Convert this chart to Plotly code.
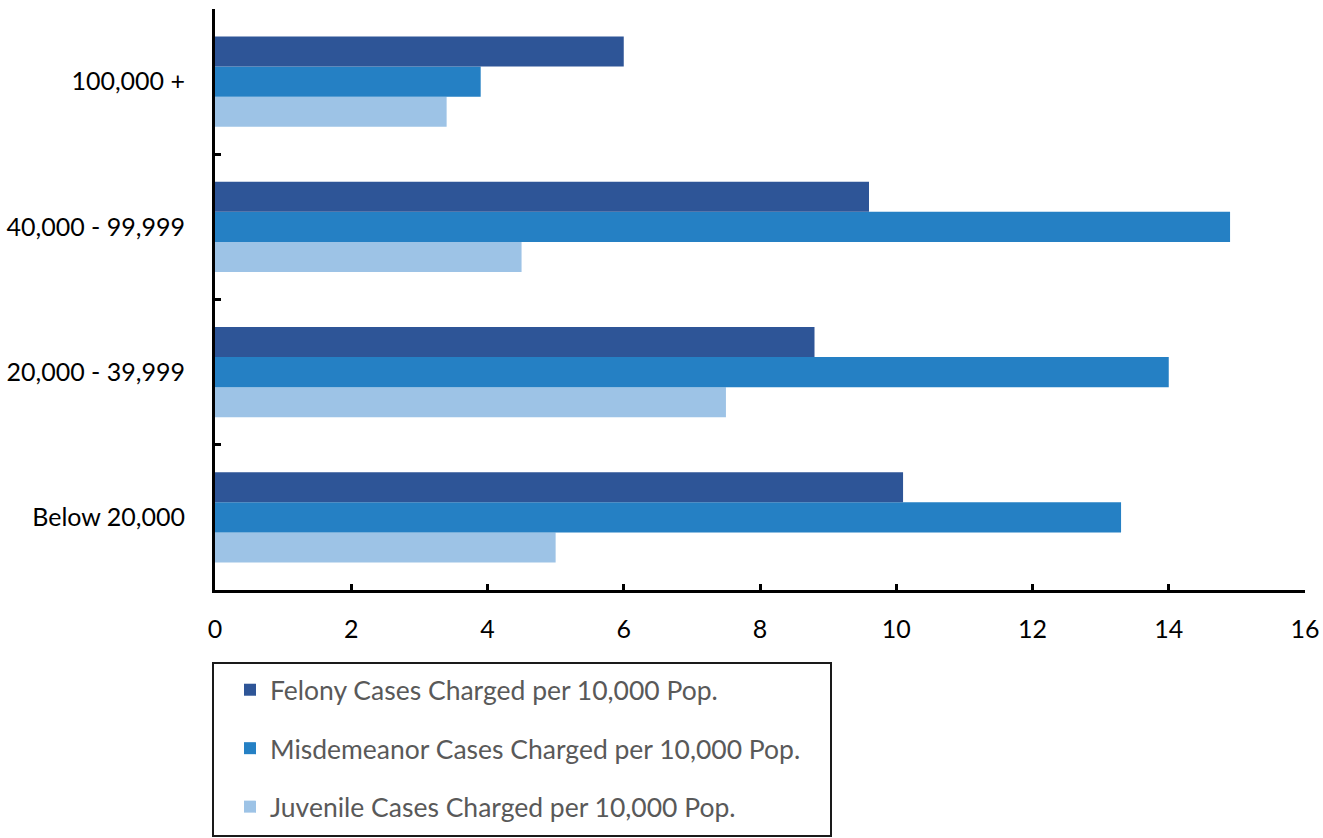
import plotly.graph_objects as go

# Population size groups (bottom to top on the chart)
categories = ["Below 20,000", "20,000 - 39,999", "40,000 - 99,999", "100,000 +"]

felony = [10.1, 8.8, 9.6, 6.0]
misdemeanor = [13.3, 14.0, 14.9, 3.9]
juvenile = [5.0, 7.5, 4.5, 3.4]

series_names = [
    "Felony Cases Charged per 10,000 Pop.",
    "Misdemeanor Cases Charged per 10,000 Pop.",
    "Juvenile Cases Charged per 10,000 Pop.",
]
series_colors = ["#2E5597", "#2580C4", "#9DC3E6"]

x_ticks = list(range(0, 17, 2))

W, H = 1323, 838
ML, MR, MT, MB = 215, 18, 9, 248
plot_w = W - ML - MR
plot_h = H - MT - MB


def px_to_paper_x(px):
    return (px - ML) / plot_w


def px_to_paper_y(py):
    return (H - MB - py) / plot_h


fig = go.Figure()

series = list(zip(series_names, [felony, misdemeanor, juvenile], series_colors))

# Added bottom-up so Felony sits at the top of each group;
# legendrank keeps the legend listed Felony first
for rank, (name, vals, color) in reversed(list(enumerate(series, start=1))):
    fig.add_trace(
        go.Bar(
            y=categories,
            x=vals,
            orientation="h",
            name=name,
            legendgroup=name,
            legendrank=rank,
            marker=dict(color=color, line=dict(width=0)),
        )
    )

font_family = "Lato, 'Noto Sans', sans-serif"

fig.update_layout(
    width=W,
    height=H,
    margin=dict(l=ML, r=MR, t=MT, b=MB, autoexpand=False),
    paper_bgcolor="white",
    plot_bgcolor="white",
    barmode="group",
    bargap=0.38,
    bargroupgap=0,
    font=dict(family=font_family, size=25, color="#000000"),
    showlegend=True,
    legend=dict(
        traceorder="grouped",
        x=px_to_paper_x(230),
        y=px_to_paper_y(666),
        xanchor="left",
        yanchor="top",
        bgcolor="rgba(0,0,0,0)",
        borderwidth=0,
        tracegroupgap=21,
        font=dict(family=font_family, size=26.5, color="#595959"),
    ),
    xaxis=dict(
        range=[0, 16],
        tickvals=x_ticks,
        ticks="inside",
        ticklen=6,
        tickwidth=3,
        tickcolor="#000000",
        showline=True,
        linewidth=3,
        linecolor="#000000",
        showgrid=False,
        zeroline=False,
        automargin=False,
        ticklabelstandoff=15,
        tickfont=dict(size=25, color="#000000"),
    ),
    yaxis=dict(
        type="category",
        categoryorder="array",
        categoryarray=categories,
        range=[-0.5, 3.5],
        tickson="boundaries",
        ticks="inside",
        ticklen=6,
        tickwidth=3,
        tickcolor="#000000",
        showline=True,
        linewidth=3,
        linecolor="#000000",
        showgrid=False,
        zeroline=False,
        automargin=False,
        ticklabelstandoff=22,
        tickfont=dict(size=25, color="#000000"),
    ),
    shapes=[
        dict(
            type="rect",
            xref="paper",
            yref="paper",
            x0=px_to_paper_x(213),
            x1=px_to_paper_x(831),
            y0=px_to_paper_y(663),
            y1=px_to_paper_y(836),
            line=dict(color="#1a1a1a", width=2),
            fillcolor="rgba(0,0,0,0)",
        )
    ],
)

fig.write_html("out.html")
